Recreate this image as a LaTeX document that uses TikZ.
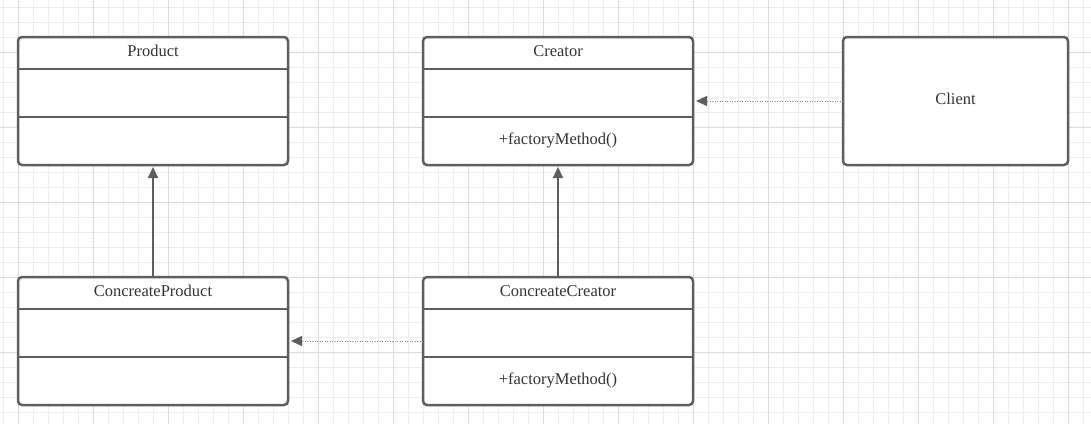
\documentclass[tikz,border=0pt]{standalone}
\usepackage{fontspec}
\setmainfont{Liberation Serif}
\usetikzlibrary{calc,arrows.meta}
\definecolor{umlline}{RGB}{94,94,94}
\definecolor{umltext}{RGB}{51,51,51}
\definecolor{gridminor}{RGB}{237,237,237}
\definecolor{gridmajor}{RGB}{220,220,220}

\begin{document}
\begin{tikzpicture}[x=1pt, y=-1pt]
  \tikzstyle{myline}=[line width=2.5pt, line cap=round, line join=round];
  \tikzstyle{mybox}=[draw=umlline, myline, fill=white, rounded corners=4pt,
    minimum width=270pt, minimum height=128pt, inner sep=0pt, outer sep=0pt,
    anchor=north west];
  \tikzstyle{mytext}=[text=umltext, font=\fontsize{16.5}{19}\selectfont];
  \tikzstyle{mydiv}=[draw=umlline, myline, line cap=butt];
  \tikzstyle{myinherit}=[draw=umlline, line width=1.8pt,
    -{Triangle[length=11pt, width=10pt]}];
  \tikzstyle{mydep}=[draw=umlline!75, line width=1pt, dash pattern=on 1pt off 1.5pt,
    -{Triangle[length=11pt, width=10pt, color=umlline]}];
  %
  \useasboundingbox (0,0) rectangle (1091,424);
  \fill[white] (0,0) rectangle (1091,424);
  %
  % background grid
  \foreach \x in {3,18,...,1091}
    \draw[gridminor, line width=1pt] (\x,0) -- (\x,424);
  \foreach \y in {7,22,...,424}
    \draw[gridminor, line width=1pt] (0,\y) -- (1091,\y);
  \foreach \x in {18,93,...,1091}
    \draw[gridmajor, line width=1pt] (\x,0) -- (\x,424);
  \foreach \y in {52,127,...,424}
    \draw[gridmajor, line width=1pt] (0,\y) -- (1091,\y);
  %
  % classes
  \node[mybox] (product) at (18, 37) {};
  \node[mybox] (creator) at (423, 37) {};
  \node[mybox] (cproduct) at (18, 277) {};
  \node[mybox] (ccreator) at (423, 277) {};
  \node[mybox, minimum width=225pt] (client) at (843, 37) {};
  %
  % compartments
  \foreach \c in {product, creator, cproduct, ccreator} {
    \draw[mydiv] ($(\c.north west) + (0, 32)$) -- ($(\c.north east) + (0, 32)$);
    \draw[mydiv] ($(\c.north west) + (0, 80)$) -- ($(\c.north east) + (0, 80)$);
  }
  %
  % labels
  \node[mytext] (productname) at ($(product.north) + (0, 14)$) {Product};
  \node[mytext] (creatorname) at ($(creator.north) + (0, 14)$) {Creator};
  \node[mytext] (cproductname) at ($(cproduct.north) + (0, 14)$) {ConcreateProduct};
  \node[mytext] (ccreatorname) at ($(ccreator.north) + (0, 14)$) {ConcreateCreator};
  \node[mytext] (creatorop) at ($(creator.south) + (0, -25)$) {+factoryMethod()};
  \node[mytext] (ccreatorop) at ($(ccreator.south) + (0, -25)$) {+factoryMethod()};
  \node[mytext] (clientname) at ($(client.center) + (0, -2)$) {Client};
  %
  % connections
  \draw[myinherit] (cproduct.north) -- ($(product.south) + (0, 2)$);
  \draw[myinherit] (ccreator.north) -- ($(creator.south) + (0, 2)$);
  \draw[mydep] (client.west) -- ($(creator.east) + (3, 0)$);
  \draw[mydep] (ccreator.west) -- ($(cproduct.east) + (3, 0)$);
\end{tikzpicture}
\end{document}
